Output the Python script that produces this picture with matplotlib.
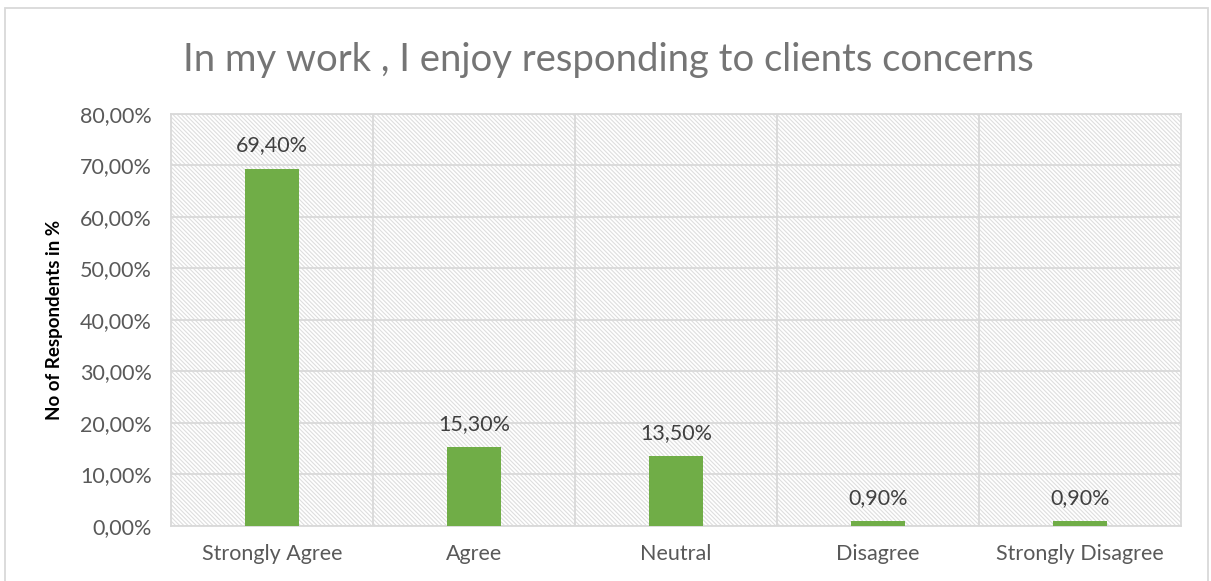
import matplotlib.pyplot as plt
from matplotlib.patches import Rectangle
from matplotlib.ticker import FuncFormatter, MultipleLocator

plt.rcParams['font.family'] = ['Lato', 'DejaVu Sans']
plt.rcParams['hatch.linewidth'] = 0.8

categories = ['Strongly Agree', 'Agree', 'Neutral', 'Disagree', 'Strongly Disagree']
values = [69.4, 15.3, 13.5, 0.9, 0.9]

grid_col = '#d9d9d9'
text_col = '#595959'

fig = plt.figure(figsize=(12.11, 5.81), dpi=100)
ax = fig.add_axes([0.1412, 0.0947, 0.8340, 0.7091])

# hatched plot background
ax.add_patch(Rectangle((0, 0), 1, 1, transform=ax.transAxes, facecolor='white',
                       edgecolor='#dedede', linewidth=0, hatch='\\\\\\\\\\\\\\\\', zorder=0))

x = range(len(categories))
ax.bar(x, values, width=0.27, color='#70ad47', zorder=3)
for xi, v in zip(x, values):
    ax.text(xi, v + 2.6, ('%.2f%%' % v).replace('.', ','), ha='center', va='bottom',
            fontsize=15.5, color='#404040', zorder=4)

ax.set_xlim(-0.5, len(categories) - 0.5)
ax.set_ylim(0, 80)
ax.yaxis.set_major_locator(MultipleLocator(10))
ax.yaxis.set_major_formatter(FuncFormatter(lambda v, p: ('%.2f%%' % v).replace('.', ',')))
ax.set_xticks(list(x))
ax.set_xticklabels(categories)
ax.tick_params(axis='both', length=0, labelsize=15.5, labelcolor=text_col)
ax.tick_params(axis='x', pad=13)
ax.tick_params(axis='y', pad=14)

ax.grid(axis='y', color=grid_col, linewidth=1.3, zorder=1)
for b in [0.5, 1.5, 2.5, 3.5]:
    ax.axvline(b, color=grid_col, linewidth=1.3, zorder=1)
for s in ax.spines.values():
    s.set_color(grid_col)
    s.set_linewidth(1.3)

ax.set_ylabel('No of Respondents in %', fontsize=13.5, fontweight='bold', color='black', labelpad=12)
fig.text(0.502, 0.897, 'In my work , I enjoy responding to clients concerns', ha='center', va='center',
         fontsize=27.5, color='#757575')

# outer chart border
fig.patches.append(Rectangle((5 / 1211, -0.05), 1203 / 1211, 1.05 - 8 / 581, transform=fig.transFigure,
                             facecolor='none', edgecolor=grid_col, linewidth=1.3))

fig.savefig('out.png', dpi=100)
